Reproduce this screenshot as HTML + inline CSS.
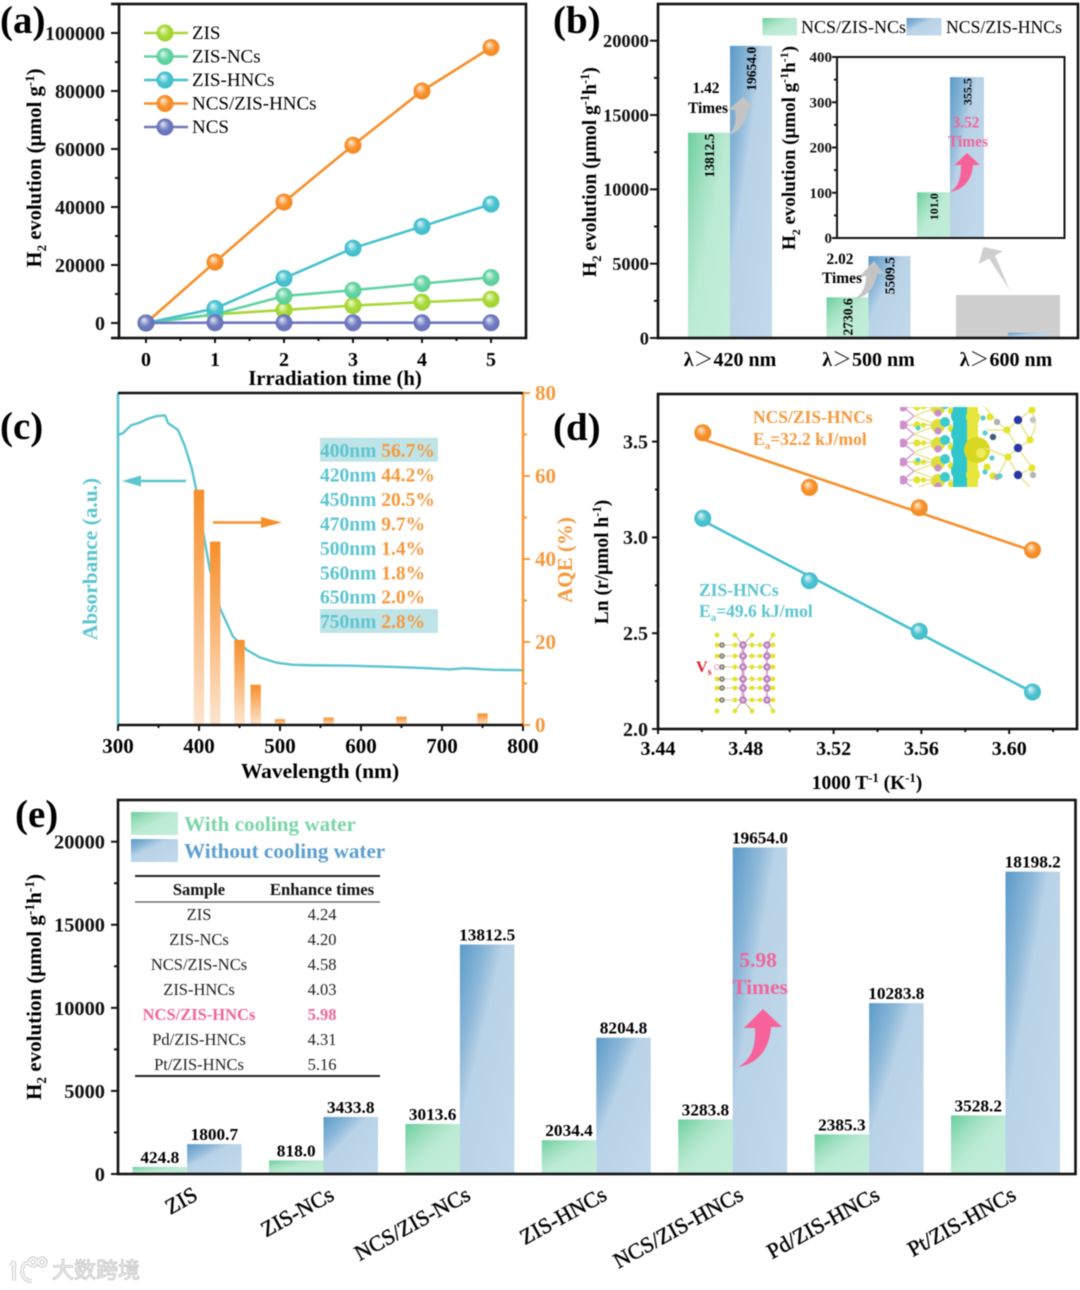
<!DOCTYPE html>
<html lang="en">
<head>
<meta charset="utf-8">
<title>Photocatalytic H2 evolution composite figure</title>
<style>
html,body{margin:0;padding:0;background:#fff;width:1080px;height:1290px;overflow:hidden}
svg{display:block;font-family:"Liberation Serif","Noto Serif CJK SC",serif;filter:blur(.5px)}
.b{font-weight:bold}
.frame{fill:none;stroke:#111;stroke-width:2.6}
</style>
</head>
<body>
<svg id="fig" xmlns="http://www.w3.org/2000/svg" width="1080" height="1290" viewBox="0 0 1080 1290">
<defs>
  <linearGradient id="gGreen" x1="0" y1="0" x2="1" y2="1"><stop offset="0" stop-color="#6bcf9c"/><stop offset=".28" stop-color="#a0e0c0"/><stop offset=".5" stop-color="#bcebd4"/><stop offset="1" stop-color="#c2eeda"/></linearGradient>
  <linearGradient id="gBlue" x1="0" y1="0" x2="1" y2="1"><stop offset="0" stop-color="#5a9ac8"/><stop offset=".25" stop-color="#8db8d9"/><stop offset=".4" stop-color="#b8d2e7"/><stop offset="1" stop-color="#c3daec"/></linearGradient>
  <linearGradient id="gOrange" x1="0" y1="0" x2="0" y2="1"><stop offset="0" stop-color="#f78f2a"/><stop offset="1" stop-color="#fde5d0"/></linearGradient>
  <radialGradient id="m0" cx=".5" cy=".5" r=".55" fx=".36" fy=".3"><stop offset="0" stop-color="#f4fbd8"/><stop offset=".55" stop-color="#a9da3a"/><stop offset="1" stop-color="#9bd12c"/></radialGradient>
  <radialGradient id="m1" cx=".5" cy=".5" r=".55" fx=".36" fy=".3"><stop offset="0" stop-color="#e4f9ef"/><stop offset=".55" stop-color="#66d4a4"/><stop offset="1" stop-color="#58cd99"/></radialGradient>
  <radialGradient id="m2" cx=".5" cy=".5" r=".55" fx=".36" fy=".3"><stop offset="0" stop-color="#e2f7fa"/><stop offset=".55" stop-color="#4cc3d0"/><stop offset="1" stop-color="#3ebbc9"/></radialGradient>
  <radialGradient id="m3" cx=".5" cy=".5" r=".55" fx=".36" fy=".3"><stop offset="0" stop-color="#fff0df"/><stop offset=".55" stop-color="#f8922e"/><stop offset="1" stop-color="#f38820"/></radialGradient>
  <radialGradient id="m4" cx=".5" cy=".5" r=".55" fx=".36" fy=".3"><stop offset="0" stop-color="#e8eaf7"/><stop offset=".55" stop-color="#717cc0"/><stop offset="1" stop-color="#626eb8"/></radialGradient>
  <clipPath id="dftClip"><rect x="900" y="407" width="136" height="80"/></clipPath>
</defs>

<!-- PANEL A -->
<g id="panelA">
  <text x="0" y="33" font-size="39" class="b">(a)</text>
  <rect x="119" y="4" width="407" height="334" class="frame"/>
  <text transform="translate(41,168) rotate(-90)" text-anchor="middle" font-size="20.6" class="b">H<tspan dy="5" font-size="13">2</tspan><tspan dy="-5"> evolution (μmol g</tspan><tspan dy="-7" font-size="13">-1</tspan><tspan dy="7">)</tspan></text>
  <text x="335" y="385" text-anchor="middle" font-size="20.7" class="b">Irradiation time (h)</text>
</g>

<!-- PANEL B -->
<g id="panelB">
  <text x="553" y="33" font-size="39" class="b">(b)</text>
  <rect x="956" y="295" width="104" height="43" fill="#cfcfcf"/>
  <text transform="translate(596,172) rotate(-90)" text-anchor="middle" font-size="19.5" class="b">H<tspan dy="5" font-size="12.5">2</tspan><tspan dy="-5"> evolution (μmol g</tspan><tspan dy="-7" font-size="12.5">-1</tspan><tspan dy="7">h</tspan><tspan dy="-7" font-size="12.5">-1</tspan><tspan dy="7">)</tspan></text>
  <rect x="762.5" y="18" width="34.5" height="17.5" fill="url(#gGreen)"/>
  <text x="801" y="33" font-size="18">NCS/ZIS-NCs</text>
  <rect x="906.5" y="18" width="35" height="17.5" fill="url(#gBlue)"/>
  <text x="946" y="33" font-size="17.7">NCS/ZIS-HNCs</text>
</g>
<g id="panelBInset">
  <text transform="translate(795,148) rotate(-90)" text-anchor="middle" font-size="19" class="b">H<tspan dy="5" font-size="12">2</tspan><tspan dy="-5"> evolution (μmol g</tspan><tspan dy="-7" font-size="12">-1</tspan><tspan dy="7">h</tspan><tspan dy="-7" font-size="12">-1</tspan><tspan dy="7">)</tspan></text>
</g>
<g id="panelBNotes">
  <path d="M727,135 C737,130 736,118 735,110 L728,110 L743,97 L755,108 L748,108 C747,122 739,133 727,135 Z" fill="#c4c4c4"/>
  <path d="M853,299 C862,296 866,286 866,276 L859,277 L874,261 L884,274 L877,274 C875,288 866,298 853,299 Z" fill="#c4c4c4"/>
  <polygon points="983.4,247 1003,251 995,255.5 1009.6,290 989,258.5 978.7,264" fill="#cfcfcf"/>
  <text x="706" y="93" text-anchor="middle" font-size="15.4" class="b">1.42</text>
  <text x="708" y="113" text-anchor="middle" font-size="15.4" class="b">Times</text>
  <text x="840" y="264" text-anchor="middle" font-size="15.4" class="b">2.02</text>
  <text x="842" y="283" text-anchor="middle" font-size="15.4" class="b">Times</text>
  <path d="M950,192 C960,186 961,175 961,165 L954.5,165 L967,153 L980,165 L973,165 C972,180 963,190 950,192 Z" fill="#f8629a"/>
  <text x="966" y="127.5" text-anchor="middle" font-size="15.4" class="b" fill="#f0659a">3.52</text>
  <text x="968" y="146.5" text-anchor="middle" font-size="15.4" class="b" fill="#f0659a">Times</text>
</g>

<!-- PANEL C -->
<g id="panelC">
  <text x="0" y="439" font-size="39" class="b">(c)</text>
  <text transform="translate(97,559) rotate(-90)" text-anchor="middle" font-size="21.4" class="b" fill="#5cc5cf">Absorbance (a.u.)</text>
  <text transform="translate(572,560) rotate(-90)" text-anchor="middle" font-size="21" class="b" fill="#f59a3e">AQE (%)</text>
  <text x="320" y="778" text-anchor="middle" font-size="21.5" class="b">Wavelength (nm)</text>
  <rect x="320" y="437.7" width="118" height="24" fill="#bfe4e8"/>
  <rect x="320" y="609" width="118" height="24" fill="#bfe4e8"/>
</g>

<!-- PANEL D -->
<g id="panelD">
  <text x="553" y="440" font-size="39" class="b">(d)</text>
  <rect x="658" y="394" width="419" height="335" class="frame"/>
  <text transform="translate(608,562) rotate(-90)" text-anchor="middle" font-size="19.5" class="b">Ln (r/μmol h<tspan dy="-7" font-size="12.5">-1</tspan><tspan dy="7">)</tspan></text>
  <text x="867" y="789" text-anchor="middle" font-size="19.5" class="b">1000 T<tspan dy="-7" font-size="12.5">-1</tspan><tspan dy="7"> (K</tspan><tspan dy="-7" font-size="12.5">-1</tspan><tspan dy="7">)</tspan></text>
  <text x="753" y="423" font-size="17.5" class="b" fill="#f59a3e">NCS/ZIS-HNCs</text>
  <text x="753" y="445" font-size="17.5" class="b" fill="#f59a3e">E<tspan dy="4" font-size="11">a</tspan><tspan dy="-4">=32.2 kJ/mol</tspan></text>
  <text x="699" y="596" font-size="17.5" class="b" fill="#5cc5cf">ZIS-HNCs</text>
  <text x="699" y="617" font-size="17.5" class="b" fill="#5cc5cf">E<tspan dy="4" font-size="11">a</tspan><tspan dy="-4">=49.6 kJ/mol</tspan></text>
  <text x="696" y="672" font-size="16" class="b" fill="#e0202c">V<tspan dy="3" font-size="10">s</tspan></text>
</g>

<!-- PANEL E -->
<g id="panelE">
  <text x="15" y="827" font-size="39" class="b">(e)</text>
  <text transform="translate(41,987) rotate(-90)" text-anchor="middle" font-size="21" class="b">H<tspan dy="5" font-size="13.5">2</tspan><tspan dy="-5"> evolution (μmol g</tspan><tspan dy="-7" font-size="13.5">-1</tspan><tspan dy="7">h</tspan><tspan dy="-7" font-size="13.5">-1</tspan><tspan dy="7">)</tspan></text>
  <rect x="131" y="812" width="47" height="23" fill="url(#gGreen)"/>
  <rect x="131" y="839" width="47" height="23" fill="url(#gBlue)"/>
  <text x="184" y="831" font-size="21.1" class="b" fill="#7cd6a7">With cooling water</text>
  <text x="184" y="858" font-size="21.1" class="b" fill="#5b9fd0">Without cooling water</text>
</g>
<g id="panelENotes">
  <g font-size="16.5" text-anchor="middle" fill="#222">
    <line x1="135" x2="380" y1="876" y2="876" stroke="#222" stroke-width="2"/>
    <line x1="135" x2="380" y1="902" y2="902" stroke="#555" stroke-width="1.2"/>
    <line x1="135" x2="380" y1="1076" y2="1076" stroke="#222" stroke-width="2"/>
    <text x="199" y="895" class="b" fill="#111">Sample</text>
    <text x="322" y="895" class="b" fill="#111" font-size="16.7">Enhance times</text>
    <text x="199" y="920">ZIS</text><text x="322" y="920">4.24</text>
    <text x="199" y="945">ZIS-NCs</text><text x="322" y="945">4.20</text>
    <text x="199" y="970">NCS/ZIS-NCs</text><text x="322" y="970">4.58</text>
    <text x="199" y="995">ZIS-HNCs</text><text x="322" y="995">4.03</text>
    <text x="199" y="1020" class="b" fill="#f0659a">NCS/ZIS-HNCs</text><text x="322" y="1020" class="b" fill="#f0659a">5.98</text>
    <text x="199" y="1045">Pd/ZIS-HNCs</text><text x="322" y="1045">4.31</text>
    <text x="199" y="1070">Pt/ZIS-HNCs</text><text x="322" y="1070">5.16</text>
  </g>
  <path d="M738,1067 C752,1060 756,1045 755,1028 L744,1028 L763,1009 L782,1027 L771,1027 C770,1048 758,1064 738,1067 Z" fill="#f8629a"/>
  <text x="758" y="967" text-anchor="middle" font-size="21.5" class="b" fill="#f0659a">5.98</text>
  <text x="760" y="994" text-anchor="middle" font-size="21.5" class="b" fill="#f0659a">Times</text>
</g>

<!-- WATERMARK -->
<g>
  <g fill="none" stroke="#cfcfcf" stroke-width="4">
    <path d="M14,1261 L11,1266 M14,1261 L14,1281"/>
    <path d="M31,1264 C20,1258 18,1282 32,1281"/>
    <circle cx="33" cy="1262" r="3.6"/>
    <circle cx="42" cy="1262" r="3.6"/>
  </g>
  <g fill="none" stroke="#f7f7f7" stroke-width="2">
    <path d="M14,1261 L11,1266 M14,1261 L14,1281"/>
    <path d="M31,1264 C20,1258 18,1282 32,1281"/>
    <circle cx="33" cy="1262" r="3.6"/>
    <circle cx="42" cy="1262" r="3.6"/>
  </g>
  <text x="52" y="1278" font-size="22" fill="#f8f8f8" stroke="#c2c2c2" stroke-width=".8" style="font-family:'Liberation Sans','Noto Sans CJK SC',sans-serif">大数跨境</text>
</g>
</svg>

<script>
// ---- Panel (a) data ----
const aHours = [0, 1, 2, 3, 4, 5];
const aZis = [0, 3000, 4500, 6000, 7200, 8200];
const aZisNcs = [0, 3000, 9300, 11300, 13600, 15700];
const aZisHncs = [0, 5000, 15400, 25800, 33300, 41000];
const aNcsZisHncs = [0, 21000, 41700, 61300, 80000, 95000];
const aNcs = [0, 100, 100, 100, 100, 100];
const aSeriesNames = ['ZIS', 'ZIS-NCs', 'ZIS-HNCs', 'NCS/ZIS-HNCs', 'NCS'];
const aYTicks = [0, 20000, 40000, 60000, 80000, 100000];

// ---- Panel (b) data ----
const bCategories = ['λ＞420 nm', 'λ＞500 nm', 'λ＞600 nm'];
const bGreen = [13812.5, 2730.6, 101.0];
const bBlue = [19654.0, 5509.5, 355.5];
const bYTicks = [0, 5000, 10000, 15000, 20000];
const bInsetTicks = [0, 100, 200, 300, 400];

// ---- Panel (c) data ----
const cWavelength = [300,306,316,327,337,347,358,362,374,382,391,397,405,413,426,442,459,475,496,516,537,586,640,681,710,727,764,800];
const cAbsorbance = [69.9,70.3,72.2,72.9,73.8,74.4,74.6,72.7,71.1,67.5,61.9,56.3,46.6,37.8,28.1,21.3,18.1,16.3,15.0,14.5,14.4,14.3,14.0,13.7,13.4,13.7,13.3,13.2];
const cBarWavelengths = [400, 420, 450, 470, 500, 560, 650, 750];
const cAqe = [56.7, 44.2, 20.5, 9.7, 1.4, 1.8, 2.0, 2.8];
const cXTicks = [300, 400, 500, 600, 700, 800];
const cYTicks = [0, 20, 40, 60, 80];

// ---- Panel (d) data ----
const dInverseT = [3.4604, 3.509, 3.559, 3.6106];
const dNcsZisHncs = [3.546, 3.261, 3.155, 2.934];
const dZisHncs = [3.10, 2.774, 2.51, 2.193];
const dXTicks = [3.44, 3.48, 3.52, 3.56, 3.60];
const dYTicks = [2.0, 2.5, 3.0, 3.5];

// ---- Panel (e) data ----
const eCategories = ['ZIS', 'ZIS-NCs', 'NCS/ZIS-NCs', 'ZIS-HNCs', 'NCS/ZIS-HNCs', 'Pd/ZIS-HNCs', 'Pt/ZIS-HNCs'];
const eWithCooling = [424.8, 818.0, 3013.6, 2034.4, 3283.8, 2385.3, 3528.2];
const eWithoutCooling = [1800.7, 3433.8, 13812.5, 8204.8, 19654.0, 10283.8, 18198.2];
const eYTicks = [0, 5000, 10000, 15000, 20000];

// ---- helpers ----
const NS = 'http://www.w3.org/2000/svg';
function mk(tag, parent, attrs, text) {
  const e = document.createElementNS(NS, tag);
  for (const k in attrs) e.setAttribute(k, attrs[k]);
  if (text !== undefined) e.textContent = text;
  parent.appendChild(e);
  return e;
}
function slug(s) { return s.toLowerCase().replace(/[^a-z0-9]+/g, '-').replace(/^-|-$/g, ''); }
function fmt1(v) { return v.toFixed(1); }

function leftAxis(parent, prefix, ticks, minorStep, yFn, xAxis, opt) {
  const o = opt || {};
  const majorLen = o.major === undefined ? 8 : o.major;
  const minorLen = o.minor === undefined ? 4 : o.minor;
  const color = o.color || '#111';
  const step = ticks[1] - ticks[0];
  const n = Math.round((ticks[ticks.length - 1] - ticks[0]) / minorStep);
  for (let i = 0; i <= n; i++) {
    const v = ticks[0] + i * minorStep;
    const isMajor = Math.abs(((v - ticks[0]) / step) - Math.round((v - ticks[0]) / step)) < 1e-6;
    const len = isMajor ? majorLen : minorLen;
    const t = mk('line', parent, {x1: xAxis, x2: xAxis + (o.right ? len : -len), y1: yFn(v), y2: yFn(v), stroke: color, 'stroke-width': 2});
    
    
  }
  ticks.forEach(function (v) {
    const lab = mk('text', parent, {x: o.labelX, y: yFn(v) + (o.size || 20) * 0.34, 'text-anchor': o.right ? 'start' : 'end', 'font-size': o.size || 20, 'font-weight': 'bold', fill: color}, o.fmt ? o.fmt(v) : String(v));
    
    
  });
}
function bottomAxis(parent, prefix, ticks, xFn, yAxis, opt) {
  const o = opt || {};
  ticks.forEach(function (v, i) {
    const t = mk('line', parent, {x1: xFn(v), x2: xFn(v), y1: yAxis, y2: yAxis + (o.major || 6), stroke: '#111', 'stroke-width': 2});
    
    
    const lab = mk('text', parent, {x: xFn(v), y: o.labelY, 'text-anchor': 'middle', 'font-size': o.size || 20, 'font-weight': 'bold'}, o.fmt ? o.fmt(v) : String(v));
    
    
    if (i < ticks.length - 1) {
      const mid = (v + ticks[i + 1]) / 2;
      const m = mk('line', parent, {x1: xFn(mid), x2: xFn(mid), y1: yAxis, y2: yAxis + (o.minor || 3), stroke: '#111', 'stroke-width': 2});
      
      
    }
  });
}
function ball(parent, name, cx, cy, r, fillId) {
  const c = mk('circle', parent, {cx: cx, cy: cy, r: r, fill: 'url(#' + fillId + ')'});
  
  
  return c;
}

// ---- Panel (a) ----
(function () {
  const g = document.getElementById('panelA');
  const x = h => 146 + h * 69;
  const y = v => 323 - v * 0.0029;
  const seriesValues = [aZis, aZisNcs, aZisHncs, aNcsZisHncs, aNcs];
  const colors = ['#a8d838', '#62d3a3', '#47c1cf', '#f7902b', '#6c77bd'];
  leftAxis(g, 'panel-a', aYTicks, 10000, y, 119, {labelX: 105});
  bottomAxis(g, 'panel-a', aHours, x, 338, {labelY: 366, major: 5});
  const axisExt = mk('line', g, {x1: 111, x2: 119, y1: 338, y2: 338, stroke: '#111', 'stroke-width': 2.6});
  
  
  const topExt = mk('line', g, {x1: 111, x2: 119, y1: 4, y2: 4, stroke: '#111', 'stroke-width': 2.6});
  
  
  seriesValues.forEach(function (vals, s) {
    const sName = slug(aSeriesNames[s]);
    const pl = mk('polyline', g, {points: vals.map((v, i) => x(aHours[i]) + ',' + y(v)).join(' '), fill: 'none', stroke: colors[s], 'stroke-width': 2.6});
    
    
    vals.forEach(function (v, i) {
      ball(g, 'point-' + sName, x(aHours[i]), y(v), 8.5, 'm' + s);
    });
    const ly = 33 + s * 23.5;
    const ll = mk('line', g, {x1: 144, x2: 188, y1: ly, y2: ly, stroke: colors[s], 'stroke-width': 2.6});
    
    
    ball(g, 'legend-marker-' + sName, 165, ly, 8.5, 'm' + s);
    const lt = mk('text', g, {x: 192, y: ly + 6, 'font-size': 19}, aSeriesNames[s]);
    
    
  });
})();

// ---- Panel (b) ----
(function () {
  const g = document.getElementById('panelB');
  const y = v => 338 - v * 297.3 / 20000;
  const centers = [730, 868.5, 1008];
  const w = 42;
  bCategories.forEach(function (c, i) {
    const gv = bGreen[i];
    const bv = bBlue[i];
    if (i < 2) {
      const r1 = mk('rect', g, {x: centers[i] - w, y: y(gv), width: w, height: 338 - y(gv), fill: 'url(#gGreen)'});
      
      
    }
    const r2 = mk('rect', g, {x: centers[i], y: y(bv), width: w, height: 338 - y(bv), fill: 'url(#gBlue)'});
    
    
    const lab = mk('text', g, {x: i === 2 ? 1006 : centers[i], y: 366, 'text-anchor': 'middle', 'font-size': 20, 'font-weight': 'bold'}, c);
    
    
    if (i < 2) {
      const t1 = mk('text', g, {transform: 'translate(' + (centers[i] - 16) + ',' + (y(gv) + 1) + ') rotate(-90)', 'text-anchor': 'end', 'font-size': 13.5, 'font-weight': 'bold'}, fmt1(gv));
      
      
      const t2 = mk('text', g, {transform: 'translate(' + (centers[i] + 26) + ',' + (y(bv) + 1) + ') rotate(-90)', 'text-anchor': 'end', 'font-size': 13.5, 'font-weight': 'bold'}, fmt1(bv));
      
      
    }
  });
  leftAxis(g, 'panel-b', bYTicks, 2500, y, 658, {labelX: 649, size: 18.4, major: 8, minor: 4});
  const frame = mk('rect', g, {x: 658, y: 4, width: 420, height: 334, class: 'frame'});
  
  

  const ins = document.getElementById('panelBInset');
  const yi = v => 238 - v * 181 / 400;
  const box = mk('rect', ins, {x: 837, y: 57, width: 227.5, height: 181, fill: '#fff'});
  
  
  const ig = mk('rect', ins, {x: 917, y: yi(bGreen[2]), width: 33, height: 238 - yi(bGreen[2]), fill: 'url(#gGreen)'});
  
  
  const ib = mk('rect', ins, {x: 950, y: yi(bBlue[2]), width: 34, height: 238 - yi(bBlue[2]), fill: 'url(#gBlue)'});
  
  
  const iv1 = mk('text', ins, {transform: 'translate(938,' + (yi(bGreen[2]) + 1) + ') rotate(-90)', 'text-anchor': 'end', 'font-size': 12, 'font-weight': 'bold'}, fmt1(bGreen[2]));
  
  
  const iv2 = mk('text', ins, {transform: 'translate(971.5,' + (yi(bBlue[2]) + 1) + ') rotate(-90)', 'text-anchor': 'end', 'font-size': 12, 'font-weight': 'bold'}, fmt1(bBlue[2]));
  
  
  const fr = mk('rect', ins, {x: 837, y: 57, width: 227.5, height: 181, fill: 'none', stroke: '#111', 'stroke-width': 2});
  
  
  leftAxis(ins, 'inset', bInsetTicks, 50, yi, 837, {labelX: 832, size: 15, major: 5, minor: 3});
})();

// ---- Panel (c) ----
(function () {
  const g = document.getElementById('panelC');
  const x = w => 118 + (w - 300) * 0.81;
  const y = v => 725 - v * 332 / 80;
  const curve = mk('polyline', g, {points: cWavelength.map((w, i) => x(w) + ',' + y(cAbsorbance[i])).join(' '), fill: 'none', stroke: '#5cc5cf', 'stroke-width': 2.4});
  
  
  cBarWavelengths.forEach(function (w, i) {
    const b = mk('rect', g, {x: x(w) - 5.2, y: y(cAqe[i]), width: 10.4, height: 725 - y(cAqe[i]), fill: 'url(#gOrange)'});
    
    
  });
  const sides = [
    ['left-axis-line', 118, 393, 118, 725, '#5cc5cf'],
    ['right-axis-line', 523, 393, 523, 725, '#f59a3e'],
    ['top-axis-line', 118, 393, 523, 393, '#111'],
    ['bottom-axis-line', 118, 725, 523, 725, '#111']
  ];
  sides.forEach(function (s) {
    const l = mk('line', g, {x1: s[1], y1: s[2], x2: s[3], y2: s[4], stroke: s[5], 'stroke-width': 2.6});
    
    
  });
  bottomAxis(g, 'panel-c', cXTicks, x, 725, {labelY: 753, major: 6, minor: 3, size: 21});
  leftAxis(g, 'aqe', cYTicks, 10, y, 523, {right: true, labelX: 535, color: '#f59a3e', major: 7, minor: 4, size: 21});
  cBarWavelengths.forEach(function (w, i) {
    const t = mk('text', g, {x: 320, y: 457 + i * 24.45, 'font-size': 19.5, 'font-weight': 'bold'});
    
    
    const a = mk('tspan', t, {fill: '#5cc5cf'}, w + 'nm ');
    
    
    const b = mk('tspan', t, {fill: '#f59a3e'}, cAqe[i].toFixed(1) + '%');
    
    
  });
  const tealShaft = mk('line', g, {x1: 186, x2: 138, y1: 481, y2: 481, stroke: '#5cc5cf', 'stroke-width': 2.5});
  
  
  const tealHead = mk('polygon', g, {points: '122,481 141,475.5 141,486.5', fill: '#5cc5cf'});
  
  
  const orShaft = mk('line', g, {x1: 213, x2: 265, y1: 522.5, y2: 522.5, stroke: '#f7902b', 'stroke-width': 2.5});
  
  
  const orHead = mk('polygon', g, {points: '282,522.5 261,517 261,528', fill: '#f7902b'});
  
  
})();

// ---- Panel (d) ----
(function () {
  const g = document.getElementById('panelD');
  const x = v => 658 + (v - 3.44) / 0.04 * 87.8;
  const y = v => 729 - (v - 2) * 191.6;

  function fit(xs, ys) {
    const n = xs.length;
    const mx = xs.reduce((a, b) => a + b, 0) / n;
    const my = ys.reduce((a, b) => a + b, 0) / n;
    let sxy = 0, sxx = 0;
    xs.forEach(function (v, i) { sxy += (v - mx) * (ys[i] - my); sxx += (v - mx) * (v - mx); });
    const m = sxy / sxx;
    return v => my + m * (v - mx);
  }
  const series = [['ncs-zis-hncs', dNcsZisHncs, '#f7902b', 'm3'], ['zis-hncs', dZisHncs, '#47c1cf', 'm2']];
  series.forEach(function (s) {
    const f = fit(dInverseT, s[1]);
    const a = dInverseT[0];
    const b = dInverseT[dInverseT.length - 1];
    const l = mk('line', g, {x1: x(a), y1: y(f(a)), x2: x(b), y2: y(f(b)), stroke: s[2], 'stroke-width': 2.6});
    
    
    dInverseT.forEach(function (t, i) {
      ball(g, 'point-' + s[0], x(t), y(s[1][i]), 8.5, s[3]);
    });
  });
  leftAxis(g, 'panel-d', dYTicks, 0.25, y, 658, {labelX: 648, major: 6, minor: 3, fmt: v => v.toFixed(1)});
  bottomAxis(g, 'panel-d', dXTicks, x, 729, {labelY: 755, major: 5, minor: 3, fmt: v => v.toFixed(2)});
  const lastMinor = mk('line', g, {x1: x(3.62), x2: x(3.62), y1: 729, y2: 732, stroke: '#111', 'stroke-width': 2});
  
  

  // charge-density structure illustration
  const dft = mk('g', g, {'clip-path': 'url(#dftClip)'});
  
  
  function atom(par, nm, cx, cy, r, col) {
    const c = mk('circle', par, {cx: cx, cy: cy, r: r, fill: col});
    
    
  }
  function bond(par, x1, y1, x2, y2, col, w) {
    const b = mk('line', par, {x1: x1, y1: y1, x2: x2, y2: y2, stroke: col, 'stroke-width': w});
    
    
  }
  const rows = [407, 425, 443, 462, 480];
  rows.forEach(function (ry, i) {
    bond(dft, 903, ry, 952, ry, '#e3d7a0', 1.6);
    bond(dft, 903, ry, 914, ry + 9, '#d9a8d6', 1.6);
    bond(dft, 903, ry, 914, ry - 9, '#d9a8d6', 1.6);
    bond(dft, 914, ry + 9, 938, ry, '#e6e48c', 1.4);
    bond(dft, 914, ry - 9, 938, ry, '#e6e48c', 1.4);
    atom(dft, 'indium-atom', 903, ry, 4.5, '#cf8fcb');
    atom(dft, 'sulfur-atom', 917, ry, 3.6, '#e4e42e');
    atom(dft, 'sulfur-atom', 923.5, ry, 2.6, '#e4e42e');
    atom(dft, 'charge-lobe-yellow', 938, ry + 1, 7, '#dede3a');
    atom(dft, 'indium-atom', 938, ry + 6, 3.6, '#c990c8');
    atom(dft, 'charge-lobe-cyan', 945, ry - 3, 5, '#3dcbd0');
    atom(dft, 'sulfur-atom', 951, ry + 4, 3.2, '#e4e42e');
  });
  [428, 460].forEach(function (ry) {
    atom(dft, 'charge-lobe-cyan-small', 918, ry, 2.4, '#58cfd3');
  });
  [416, 434, 452, 471].forEach(function (ry) {
    atom(dft, 'charge-depletion-lobe', 960, ry, 9, '#32c8ce');
  });
  const cy = mk('rect', dft, {x: 953, y: 407, width: 14, height: 80, fill: '#2fc6cc'});
  
  
  const ye = mk('rect', dft, {x: 967, y: 407, width: 11, height: 80, fill: '#e6e63c'});
  
  
  atom(dft, 'charge-lobe-small', 973, 417, 7, '#e6e63c');
  atom(dft, 'charge-lobe-small', 973, 475, 7, '#e6e63c');
  atom(dft, 'charge-lobe-large', 977, 450, 13, '#d8d820');
  atom(dft, 'charge-lobe-highlight', 981, 453, 5, '#ecec5e');
  const zig = [[985, 407, 997, 422], [997, 422, 1007, 430], [1007, 430, 1018, 420], [1018, 420, 1032, 410], [1018, 420, 1030, 440], [1007, 430, 1018, 448], [1018, 448, 1030, 440], [1018, 448, 1008, 457], [1018, 448, 1032, 468], [1008, 457, 1018, 475], [1018, 475, 1032, 468], [1008, 457, 985, 448], [1008, 457, 997, 477], [1018, 475, 1030, 487], [1032, 410, 1036, 425], [1030, 440, 1036, 425], [987, 430, 1007, 430]];
  zig.forEach(function (z) {
    bond(dft, z[0], z[1], z[2], z[3], '#e8e58a', 1.5);
  });
  [[990, 417], [1007, 430], [1032, 410], [1030, 440], [1008, 457], [1032, 468], [987, 467], [993, 476]].forEach(function (p) {
    atom(dft, 'sulfur-atom', p[0], p[1], 3.6, '#e4e42e');
  });
  [[1018, 420], [1018, 448], [1018, 475]].forEach(function (p) {
    atom(dft, 'cobalt-atom', p[0], p[1], 4.2, '#2b36a8');
  });
  [[997, 422, '#b0b0b0'], [993, 437, '#3e5f78'], [997, 477, '#b0b0b0'], [1033, 420, '#c4c4c4'], [1033, 475, '#b4b4b4']].forEach(function (p) {
    atom(dft, 'nickel-atom', p[0], p[1], 3.2, p[2]);
  });
  [[983, 418], [985, 433], [992, 458], [985, 472], [1000, 476]].forEach(function (p) {
    atom(dft, 'charge-lobe-cyan-small', p[0], p[1], 2.6, '#58cfd3');
  });

  // vacancy structure illustration
  const vs = mk('g', g, {});
  
  
  const vRows = [645, 656, 667, 679, 688, 700];
  bond(vs, 743, 645, 743, 700, '#d9a8d6', 3);
  bond(vs, 767, 645, 767, 700, '#d9a8d6', 2);
  bond(vs, 752, 635, 743, 645, '#cdb07a', 1);
  bond(vs, 735, 635, 743, 645, '#cdb07a', 1);
  bond(vs, 773, 635, 767, 645, '#cdb07a', 1);
  bond(vs, 752, 711, 743, 700, '#cdb07a', 1);
  bond(vs, 735, 711, 743, 700, '#cdb07a', 1);
  bond(vs, 773, 711, 767, 700, '#cdb07a', 1);
  vRows.forEach(function (ry) {
    bond(vs, 722, ry, 773, ry, '#d6d69a', 1);
    if (ry !== 667) atom(vs, 'sulfur-atom', 717, ry, 2.4, '#e3e32a');
    atom(vs, 'gallium-atom', 722, ry, 2.8, '#7a7a6e');
    atom(vs, 'gallium-atom-center', 722, ry, 1.2, '#cfcfcf');
    atom(vs, 'sulfur-atom', 735, ry, 2.4, '#e3e32a');
    atom(vs, 'indium-atom', 743, ry, 3.8, '#bc80bc');
    atom(vs, 'indium-atom-center', 743, ry, 1.5, '#e4c8e4');
    atom(vs, 'sulfur-atom', 752, ry, 2.4, '#e3e32a');
    atom(vs, 'sulfur-atom', 760, ry, 2.2, '#e3e32a');
    atom(vs, 'indium-atom', 767, ry, 3.8, '#bc80bc');
    atom(vs, 'indium-atom-center', 767, ry, 1.5, '#e4c8e4');
    atom(vs, 'sulfur-atom', 773, ry, 2.4, '#e3e32a');
  });
  [717, 735, 752, 773].forEach(function (cx) {
    atom(vs, 'sulfur-atom', cx, 635, 2.4, '#e3e32a');
    atom(vs, 'sulfur-atom', cx, 711, 2.4, '#e3e32a');
  });
  const vac = mk('circle', vs, {cx: 717, cy: 667, r: 2.4, fill: 'none', stroke: '#f28a9b', 'stroke-width': 0.8});
  
  
})();

// ---- Panel (e) ----
(function () {
  const g = document.getElementById('panelE');
  const y = v => 1174 - v * 332.3 / 20000;
  const x0 = i => 132.6 + i * 136.4;
  const w = 54.5;
  eCategories.forEach(function (c, i) {
    const name = slug(c);
    const gv = eWithCooling[i];
    const bv = eWithoutCooling[i];
    const r1 = mk('rect', g, {x: x0(i), y: y(gv), width: w, height: 1174 - y(gv), fill: 'url(#gGreen)'});
    
    
    const r2 = mk('rect', g, {x: x0(i) + w, y: y(bv), width: w, height: 1174 - y(bv), fill: 'url(#gBlue)'});
    
    
    const t1 = mk('text', g, {x: x0(i) + w / 2, y: y(gv) - 4, 'text-anchor': 'middle', 'font-size': 17.3, 'font-weight': 'bold'}, fmt1(gv));
    
    
    const t2 = mk('text', g, {x: x0(i) + 1.5 * w, y: y(bv) - 4, 'text-anchor': 'middle', 'font-size': 17.3, 'font-weight': 'bold'}, fmt1(bv));
    
    
    const lab = mk('text', g, {transform: 'translate(' + (x0(i) + w + 12) + ',1199) rotate(-29)', 'text-anchor': 'end', 'font-size': 22, stroke: '#111', 'stroke-width': 0.45}, c);
    
    
  });
  const frame = mk('rect', g, {x: 118, y: 800, width: 957.5, height: 374, class: 'frame'});
  
  
  leftAxis(g, 'panel-e', eYTicks, 2500, y, 118, {labelX: 105, size: 20.4, major: 7, minor: 4});
  // keep annotations above the bars
  const fig = document.getElementById('fig');
  fig.insertBefore(g, document.getElementById('panelENotes'));
  fig.appendChild(document.getElementById('panelBNotes'));
})();
</script>
</body>
</html>
